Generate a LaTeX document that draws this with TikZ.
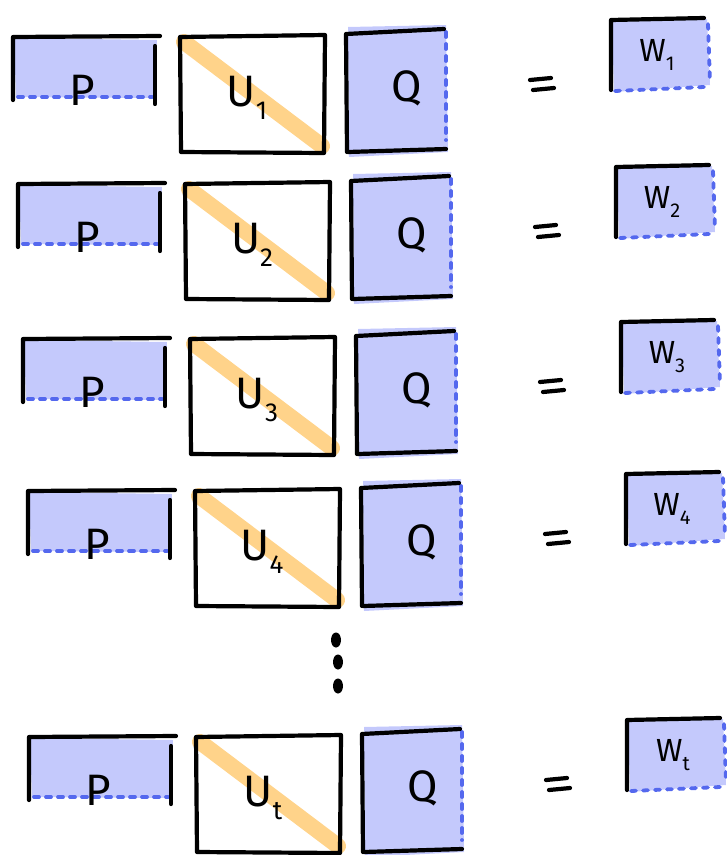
\documentclass[tikz,border=0pt]{standalone}
\usepackage{fontspec}
\setmainfont{Fira Sans}
\definecolor{fillblue}{HTML}{C4C9FC}
\definecolor{dashblue}{HTML}{5468EE}
\definecolor{diagorange}{HTML}{FFD38A}
\tikzset{
  ink/.style={line width=4.2pt, line cap=round, line join=round, black},
  dashedge/.style={line width=3.8pt, dashblue, dash pattern=on 5pt off 7pt, line cap=round},
  panel/.style={fill=fillblue},
  diagband/.style={line width=16pt, diagorange, line cap=round},
  lbl/.style={inner sep=0pt, font=\fontsize{44}{44}\selectfont},
  qlbl/.style={inner sep=0pt, font=\fontsize{44}{44}\selectfont},
  wlbl/.style={inner sep=0pt, font=\fontsize{32}{32}\selectfont},
}
% one product row: tag, x shift, y shift, subscript
\newcommand\mrow[4]{%
  \begin{scope}[shift={(#2,#3)}]
    % left factor P
    \fill[panel] (14,38) -- (157,40) -- (156,98) -- (16,97) -- cycle;
    \draw[dashedge] (18,97) -- (152,97);
    \draw[ink] (13,100) -- (13,37) -- (160,36);
    \draw[ink] (155,46) -- (155,104);
    \node[lbl] (p#1) at (82,90) {P};
    % middle factor U with its diagonal
    \draw[diagband] (184,42) -- (322,146);
    \draw[ink] (180,37) -- (325,35) -- (324,153) -- (181,152) -- cycle;
    \node[lbl] (u#1) at (247,98) {U\raisebox{-0.3em}{\fontsize{26}{26}\selectfont #4}};
    % right factor Q
    \fill[panel] (348,27) -- (446,25) -- (448,152) -- (349,157) -- cycle;
    \draw[dashedge] (446,32) -- (446,140);
    \draw[ink] (347,152) -- (346,34) -- (444,29);
    \draw[ink] (348,152) -- (446,149);
    \node[qlbl] (q#1) at (407,88) {Q};
    % equals sign
    \node[inner sep=0pt] (eq#1) at (541,83) {};
    \draw[ink] (530,80) -- (551,78);
    \draw[ink] (533,90) -- (554,88);
    % product W
    \fill[panel] (612,21) -- (707,19) -- (710,85) -- (614,92) -- cycle;
    \draw[dashedge] (708,24) -- (710,82);
    \draw[dashedge] (615,91) -- (704,87);
    \draw[ink] (611,90) -- (611,20) -- (704,18);
    \node[wlbl] (w#1) at (657,55) {W\raisebox{-0.3em}{\fontsize{20}{20}\selectfont #4}};
  \end{scope}}

\begin{document}
\begin{tikzpicture}[x=1pt,y=-1pt]
  \useasboundingbox (0,0) rectangle (727,855);
  \mrow{1}{0}{0}{1}
  \mrow{2}{5}{147}{2}
  \mrow{3}{10}{302}{3}
  \mrow{4}{15}{454}{4}
  \mrow{t}{16}{700}{t}
  % vertical ellipsis between the fourth and the last row
  \fill (336,640) ellipse [x radius=5pt, y radius=7.5pt];
  \fill (338,662) ellipse [x radius=5pt, y radius=7.5pt];
  \fill (338,686) ellipse [x radius=5pt, y radius=7.5pt];
\end{tikzpicture}
\end{document}
